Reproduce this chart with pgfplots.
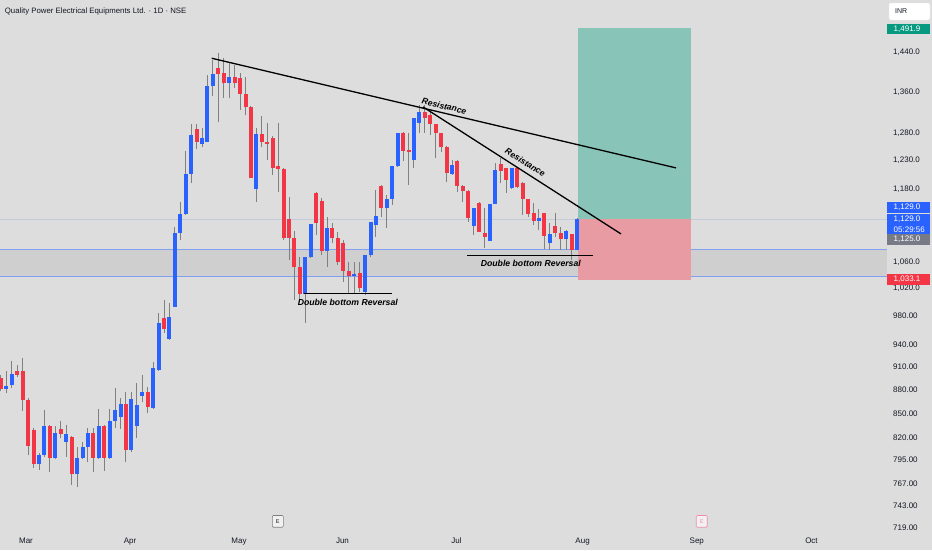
\documentclass[border=0pt]{standalone}
\usepackage{pgfplots}
\pgfplotsset{compat=1.18}
\usepackage{pgfplotstable}
\usepackage{fontspec}
\setmainfont{Liberation Sans}
\definecolor{bg}{RGB}{221,221,221}
\definecolor{band}{RGB}{207,207,207}
\definecolor{bandline}{RGB}{130,160,240}
\definecolor{upc}{RGB}{41,98,255}
\definecolor{dnc}{RGB}{242,54,69}
\definecolor{wick}{RGB}{128,128,128}
\definecolor{tgt}{RGB}{137,196,184}
\definecolor{stp}{RGB}{232,155,162}
\definecolor{txt}{RGB}{19,23,34}
\definecolor{tealtag}{RGB}{8,153,129}
\definecolor{greytag}{RGB}{120,123,134}
\definecolor{pline}{RGB}{195,202,220}
\definecolor{pinkE}{RGB}{240,140,180}

\pgfplotstableread{
x o h l c
1 881.4 904.9 875.5 885.2
2 886.2 917.8 882.7 900.1
7 789.6 802.4 782.7 800.0
8 800.0 854.4 797.7 834.0
10 796.2 834.7 795.4 826.5
12 815.0 835.9 798.1 824.6
14 777.8 809.8 763.8 796.2
15 796.2 815.7 795.4 809.8
16 809.8 831.9 792.2 826.5
18 796.9 855.3 795.4 834.7
20 796.9 855.3 795.4 840.8
21 840.8 881.9 831.9 854.4
22 846.1 869.1 830.7 861.5
24 805.9 877.5 803.9 867.8
25 834.0 888.3 819.5 860.6
26 872.0 899.2 864.8 877.5
28 857.3 916.8 856.0 908.1
29 905.8 984.0 904.5 969.8
31 947.4 998.5 946.4 979.2
32 993.6 1116.8 993.2 1107.0
33 1107.0 1157.3 1095.2 1137.7
34 1137.2 1247.4 1136.0 1205.6
35 1205.6 1297.0 1189.9 1276.3
37 1259.7 1290.5 1255.3 1271.9
38 1264.5 1393.9 1263.0 1372.2
39 1372.2 1424.7 1351.7 1395.3
42 1377.1 1417.9 1347.2 1390.4
47 1180.0 1289.4 1158.3 1278.2
56 1011.7 1068.4 970.6 1067.6
57 1067.6 1121.2 1066.8 1120.4
60 1078.3 1133.2 1052.5 1115.2
65 1039.6 1061.1 1013.2 1042.2
67 1015.6 1071.5 1010.7 1071.5
68 1071.5 1124.9 1068.9 1124.9
69 1119.6 1178.3 1100.5 1134.3
71 1147.2 1169.8 1114.2 1162.9
72 1162.9 1220.3 1152.8 1220.3
73 1220.3 1281.2 1218.5 1281.2
76 1231.0 1308.4 1216.2 1308.4
77 1298.9 1334.1 1280.1 1321.0
83 1205.6 1231.0 1204.4 1222.1
87 1118.4 1147.2 1103.3 1147.2
90 1094.1 1154.4 1093.6 1154.4
91 1154.4 1225.1 1153.6 1213.2
94 1181.2 1217.0 1179.5 1216.2
99 1126.6 1145.5 1111.4 1131.5
101 1090.0 1122.3 1079.4 1104.9
104 1096.3 1111.4 1079.4 1110.3
106 1079.4 1130.5 1078.6 1129.0
}\upT

\pgfplotstableread{
x o h l c
0 895.6 899.2 878.4 881.4
3 904.9 912.4 897.0 899.6
4 904.9 922.2 853.5 867.3
5 867.3 869.5 800.0 810.6
6 829.8 832.2 785.3 789.6
9 834.7 835.9 780.8 796.2
11 830.7 840.8 819.5 824.6
13 821.0 822.5 765.7 777.8
17 825.8 831.9 780.8 796.9
19 834.7 835.9 781.6 796.9
23 861.5 877.5 792.2 805.9
27 877.5 884.0 851.1 857.8
30 977.7 1003.3 955.7 962.1
36 1287.5 1297.0 1251.0 1264.5
40 1408.8 1439.0 1301.9 1395.3
41 1397.4 1428.3 1347.2 1377.1
43 1390.4 1414.4 1367.0 1378.3
44 1388.4 1397.4 1324.3 1355.1
45 1355.1 1390.4 1314.7 1330.7
46 1330.7 1332.0 1198.6 1198.6
48 1278.2 1312.8 1255.3 1264.5
49 1264.5 1298.9 1231.0 1259.7
50 1270.8 1275.0 1204.4 1217.3
51 1220.3 1298.9 1175.4 1215.0
52 1215.0 1216.8 1095.2 1098.9
53 1129.3 1166.8 1063.7 1098.9
54 1098.9 1109.8 1003.3 1053.4
55 1053.4 1068.9 1000.8 1012.2
58 1173.7 1174.9 1103.3 1122.3
59 1159.5 1164.1 1071.5 1078.3
61 1115.2 1122.3 1091.0 1098.0
62 1098.0 1108.6 1056.0 1061.1
63 1090.0 1095.2 1030.5 1047.2
64 1047.2 1061.1 1013.2 1039.6
66 1043.3 1061.1 1015.6 1020.6
70 1185.2 1187.0 1133.2 1147.2
74 1281.2 1282.5 1229.2 1247.4
75 1249.2 1281.2 1186.9 1246.1
78 1321.0 1334.1 1280.1 1308.4
79 1314.7 1321.0 1276.9 1297.0
80 1297.0 1297.5 1234.1 1280.1
81 1280.1 1280.6 1246.1 1255.3
82 1255.3 1256.6 1192.7 1207.4
84 1229.2 1230.1 1174.4 1185.7
85 1185.7 1187.0 1157.3 1177.1
86 1177.1 1178.3 1124.9 1131.5
88 1156.6 1157.8 1108.2 1108.6
89 1107.0 1148.2 1082.1 1099.6
92 1223.9 1234.1 1189.9 1212.0
93 1216.2 1217.0 1173.7 1195.6
95 1216.2 1217.0 1181.2 1184.0
96 1190.9 1192.0 1136.0 1162.4
97 1162.4 1163.0 1133.2 1137.7
98 1139.8 1155.6 1119.6 1126.6
100 1138.8 1139.5 1080.5 1101.7
102 1118.4 1138.8 1099.6 1105.9
103 1105.9 1115.8 1079.4 1096.3
105 1104.9 1105.6 1063.7 1079.4
}\dnT

\begin{document}
\begin{tikzpicture}[x=1pt,y=1pt]
\fill[bg] (0,0) rectangle (932,-550);
\begin{axis}[
  at={(0pt,0pt)}, anchor=north west,
  scale only axis, width=887pt, height=530pt,
  xmin=-0.184, xmax=163.05,
  ymode=log, ymin=717.0, ymax=1555.3,
  axis line style={draw=none},
  tick style={draw=none}, major tick length=0pt,
  xtick={4.60,23.74,43.80,62.84,83.84,107.03,128.05,149.15},
  xticklabels={Mar,Apr,May,Jun,Jul,Aug,Sep,Oct},
  xticklabel style={anchor=base, inner sep=0pt, yshift=-13.5pt, font=\fontsize{8}{9.6}\selectfont, text=txt},
  ytick={719,743,767,795,820,850,880,910,940,980,1020,1060,1180,1230,1280,1360,1440},
  yticklabels={719.00,743.00,767.00,795.00,820.00,850.00,880.00,910.00,940.00,980.00,{1,020.0},{1,060.0},{1,180.0},{1,230.0},{1,280.0},{1,360.0},{1,440.0}},
  yticklabel pos=right,
  yticklabel style={anchor=west, inner sep=0pt, xshift=6pt, font=\fontsize{8}{9.6}\selectfont, text=txt},
]
% support band
\fill[band] (axis cs:-0.184,1038.7) rectangle (axis cs:163.05,1080.4);
\draw[bandline, line width=0.8pt] (axis cs:-0.184,1080.4) -- (axis cs:163.05,1080.4);
\draw[bandline, line width=0.8pt] (axis cs:-0.184,1038.7) -- (axis cs:163.05,1038.7);
% price line
\draw[pline, line width=0.6pt] (axis cs:-0.184,1129) -- (axis cs:163.05,1129);
% long position
\fill[tgt] (axis cs:106.18,1129) rectangle (axis cs:126.98,1491.9);
\fill[stp] (axis cs:106.18,1033.1) rectangle (axis cs:126.98,1129);
% wicks
\addplot[draw=none, forget plot, error bars/.cd, y dir=plus, y explicit, error mark=none,
  error bar style={wick, line width=1pt}]
  table[x=x, y=l, y error plus expr={\thisrow{h}-\thisrow{l}}] {\upT};
\addplot[draw=none, forget plot, error bars/.cd, y dir=plus, y explicit, error mark=none,
  error bar style={wick, line width=1pt}]
  table[x=x, y=l, y error plus expr={\thisrow{h}-\thisrow{l}}] {\dnT};
% bodies
\addplot[draw=none, forget plot, error bars/.cd, y dir=plus, y explicit, error mark=none,
  error bar style={upc, line width=4pt}]
  table[x=x, y=o, y error plus expr={\thisrow{c}-\thisrow{o}}] {\upT};
\addplot[draw=none, forget plot, error bars/.cd, y dir=plus, y explicit, error mark=none,
  error bar style={dnc, line width=4pt}]
  table[x=x, y=c, y error plus expr={\thisrow{o}-\thisrow{c}}] {\dnT};
% trend lines
\draw[black, line width=1.3pt] (axis cs:38.77,1428.3) -- (axis cs:124.22,1216.8);
\draw[black, line width=1.3pt] (axis cs:77.66,1330.2) -- (axis cs:114.10,1104.9);
% double bottom lines
\draw[black, line width=1pt] (axis cs:55.76,1012.1) -- (axis cs:71.95,1012.1);
\draw[black, line width=1pt] (axis cs:85.76,1070.0) -- (axis cs:108.94,1070.0);
% labels
\node[rotate=-13.4, font=\bfseries\itshape\fontsize{8.6}{10}\selectfont, inner sep=0pt] at (axis cs:81.56,1331.7) {Resistance};
\node[rotate=-32, font=\bfseries\itshape\fontsize{8.6}{10}\selectfont, inner sep=0pt] at (axis cs:96.49,1226.6) {Resistance};
\node[font=\bfseries\itshape\fontsize{8.7}{10}\selectfont, inner sep=0pt] at (axis cs:63.82,1000.4) {Double bottom Reversal};
\node[font=\bfseries\itshape\fontsize{8.7}{10}\selectfont, inner sep=0pt] at (axis cs:97.50,1058.0) {Double bottom Reversal};
\end{axis}
% title
\node[anchor=west, inner sep=0pt, font=\fontsize{7.8}{9}\selectfont, text=txt] at (4.7,-11.7) {Quality Power Electrical Equipments Ltd. · 1D · NSE};
% INR box
\draw[rounded corners=2pt, fill=white, draw=white!85!gray] (889,-3) rectangle (930,-20);
\node[anchor=west, inner sep=0pt, font=\fontsize{7}{8}\selectfont, text=txt] at (895,-11.5) {INR};
% price tags
\fill[tealtag] (887,-24) rectangle (930,-34.3);
\node[anchor=west, inner sep=0pt, font=\fontsize{8}{9.6}\selectfont, text=white] at (893.5,-29.2) {1,491.9};
\fill[upc] (887,-201.7) rectangle (930,-213.0);
\node[anchor=west, inner sep=0pt, font=\fontsize{8}{9.6}\selectfont, text=white] at (893.5,-207.3) {1,129.0};
\fill[upc] (887,-213.6) rectangle (930,-234.3);
\node[anchor=west, inner sep=0pt, font=\fontsize{8}{9.6}\selectfont, text=white] at (893.5,-219.0) {1,129.0};
\node[anchor=west, inner sep=0pt, font=\fontsize{8}{9.6}\selectfont, text=white] at (893.5,-229.3) {05:29:56};
\fill[greytag] (887,-234.3) rectangle (930,-244.6);
\node[anchor=west, inner sep=0pt, font=\fontsize{8}{9.6}\selectfont, text=white] at (893.5,-239.5) {1,125.0};
\fill[dnc] (887,-274.2) rectangle (930,-285.0);
\node[anchor=west, inner sep=0pt, font=\fontsize{8}{9.6}\selectfont, text=white] at (893.5,-279.6) {1,033.1};
% earnings markers
\draw[rounded corners=1pt, fill=white!60!bg, draw=gray, line width=0.6pt] (272.3,-515.5) rectangle (283.3,-527.2);
\node[inner sep=0pt, font=\fontsize{5.5}{6}\selectfont, text=txt] at (277.8,-521.4) {E};
\draw[rounded corners=1pt, fill=white!60!bg, draw=pinkE, line width=0.6pt] (696.2,-515.5) rectangle (707.2,-527.2);
\node[inner sep=0pt, font=\fontsize{5.5}{6}\selectfont, text=pinkE] at (701.7,-521.4) {E};
\pgfresetboundingbox
\path[use as bounding box] (0,0) rectangle (932,-550);
\end{tikzpicture}
\end{document}
